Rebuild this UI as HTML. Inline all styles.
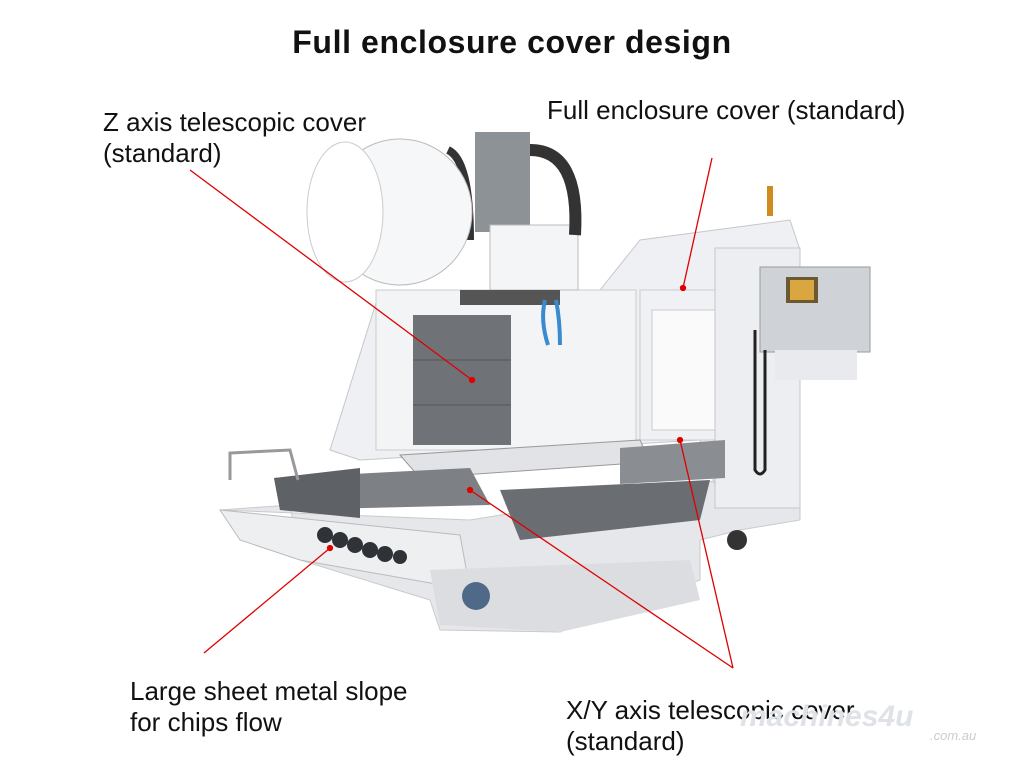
<!DOCTYPE html>
<html><head><meta charset="utf-8"><style>
html,body{margin:0;padding:0;background:#fff;}
body{width:1024px;height:768px;overflow:hidden;position:relative;font-family:"Liberation Sans",sans-serif;}
.t{position:absolute;color:#111;font-size:26px;line-height:31px;}
h1{position:absolute;left:0;width:1024px;top:24px;margin:0;text-align:center;font-size:32px;letter-spacing:0.6px;font-weight:bold;color:#111;}
</style></head><body>
<svg width="1024" height="768" style="position:absolute;left:0;top:0">
<polygon points="220,510 290,505 300,560 430,600 440,630 560,632 700,580 700,540 740,530 800,520 800,490 720,480 470,520 220,510" fill="#e6e7ea" stroke="#c8cacc"/>
<polygon points="220,510 460,535 470,590 300,560 240,540" fill="#eeeff1" stroke="#bbb"/>
<polygon points="430,570 690,560 700,600 560,632 440,625" fill="#dcdde0"/>
<polygon points="330,450 380,290 600,290 640,240 790,220 800,250 790,500 720,500 700,440 360,460" fill="#eef0f3" stroke="#c5c7ca"/>
<rect x="376" y="290" width="260" height="160" fill="#f3f4f6" stroke="#ccc"/>
<rect x="640" y="290" width="80" height="150" fill="#f0f1f4" stroke="#ccc"/>
<rect x="652" y="310" width="66" height="120" fill="#fafafb" stroke="#ccc"/>
<rect x="715" y="248" width="85" height="260" fill="#eceef1" stroke="#c5c7ca"/>
<rect x="413" y="315" width="98" height="130" fill="#6f7277"/>
<line x1="413" y1="360" x2="511" y2="360" stroke="#555"/>
<line x1="413" y1="405" x2="511" y2="405" stroke="#555"/>
<rect x="475" y="132" width="55" height="100" fill="#8c9296"/>
<rect x="490" y="225" width="88" height="65" fill="#f4f5f7" stroke="#bbb"/>
<path d="M530 150 Q580 150 575 235" fill="none" stroke="#333" stroke-width="12"/>
<path d="M448 150 Q470 160 470 240" fill="none" stroke="#333" stroke-width="8"/>
<rect x="460" y="290" width="100" height="15" fill="#555"/>
<path d="M545 300 Q540 320 548 345 M556 300 Q560 320 560 345" stroke="#3a8ad0" stroke-width="4" fill="none"/>
<ellipse cx="400" cy="212" rx="72" ry="73" fill="#f6f7f8" stroke="#bbb"/>
<ellipse cx="345" cy="212" rx="38" ry="70" fill="#fff" stroke="#ccc"/>
<polygon points="400,455 640,440 650,462 420,478" fill="#e2e3e6" stroke="#999"/>
<polygon points="274,478 470,468 490,505 280,510" fill="#7d8085"/>
<polygon points="274,478 360,468 360,518 280,510" fill="#5e6166"/>
<polygon points="620,448 725,440 725,478 620,484" fill="#8a8d92"/>
<polygon points="500,490 710,480 700,520 520,540" fill="#6a6d72"/>
<g fill="#2f3236"><circle cx="325" cy="535" r="8"/><circle cx="340" cy="540" r="8"/><circle cx="355" cy="545" r="8"/><circle cx="370" cy="550" r="8"/><circle cx="385" cy="554" r="8"/><circle cx="400" cy="557" r="7"/></g>
<circle cx="476" cy="596" r="14" fill="#4f6a88"/>
<circle cx="737" cy="540" r="10" fill="#333"/>
<path d="M230 480 L230 453 L290 450 L298 480" fill="none" stroke="#999" stroke-width="3"/>
<rect x="760" y="267" width="110" height="85" fill="#cfd3d8" stroke="#999"/>
<rect x="786" y="277" width="32" height="26" fill="#6b5a30"/>
<rect x="790" y="280" width="24" height="20" fill="#d9a640"/>
<rect x="775" y="350" width="82" height="30" fill="#e9eaed"/>
<path d="M755 330 L755 470 Q760 478 765 470 L765 350" fill="none" stroke="#222" stroke-width="3"/>
<rect x="767" y="186" width="6" height="30" fill="#d08a20"/>
<g stroke="#e00000" stroke-width="1.3" fill="#e00000">
<line x1="190" y1="170" x2="472" y2="380"/><circle cx="472" cy="380" r="2.5"/>
<line x1="712" y1="158" x2="683" y2="288"/><circle cx="683" cy="288" r="2.5"/>
<line x1="204" y1="653" x2="330" y2="548"/><circle cx="330" cy="548" r="2.5"/>
<line x1="733" y1="668" x2="470" y2="490"/><circle cx="470" cy="490" r="2.5"/>
<line x1="733" y1="668" x2="680" y2="440"/><circle cx="680" cy="440" r="2.5"/>
</g>
</svg>
<h1>Full enclosure cover design</h1>
<div class="t" style="left:103px;top:107px">Z axis telescopic cover<br>(standard)</div>
<div class="t" style="left:547px;top:95px">Full enclosure cover (standard)</div>
<div class="t" style="left:130px;top:676px">Large sheet metal slope<br>for chips flow</div>
<div class="t" style="left:566px;top:695px">X/Y axis telescopic cover<br>(standard)</div>
<div style="position:absolute;left:740px;top:700px;font-size:30px;font-style:italic;font-weight:bold;color:#dfe2e6">machines4u</div>
<div style="position:absolute;left:930px;top:728px;font-size:13px;font-style:italic;color:#ccc">.com.au</div>
</body></html>
